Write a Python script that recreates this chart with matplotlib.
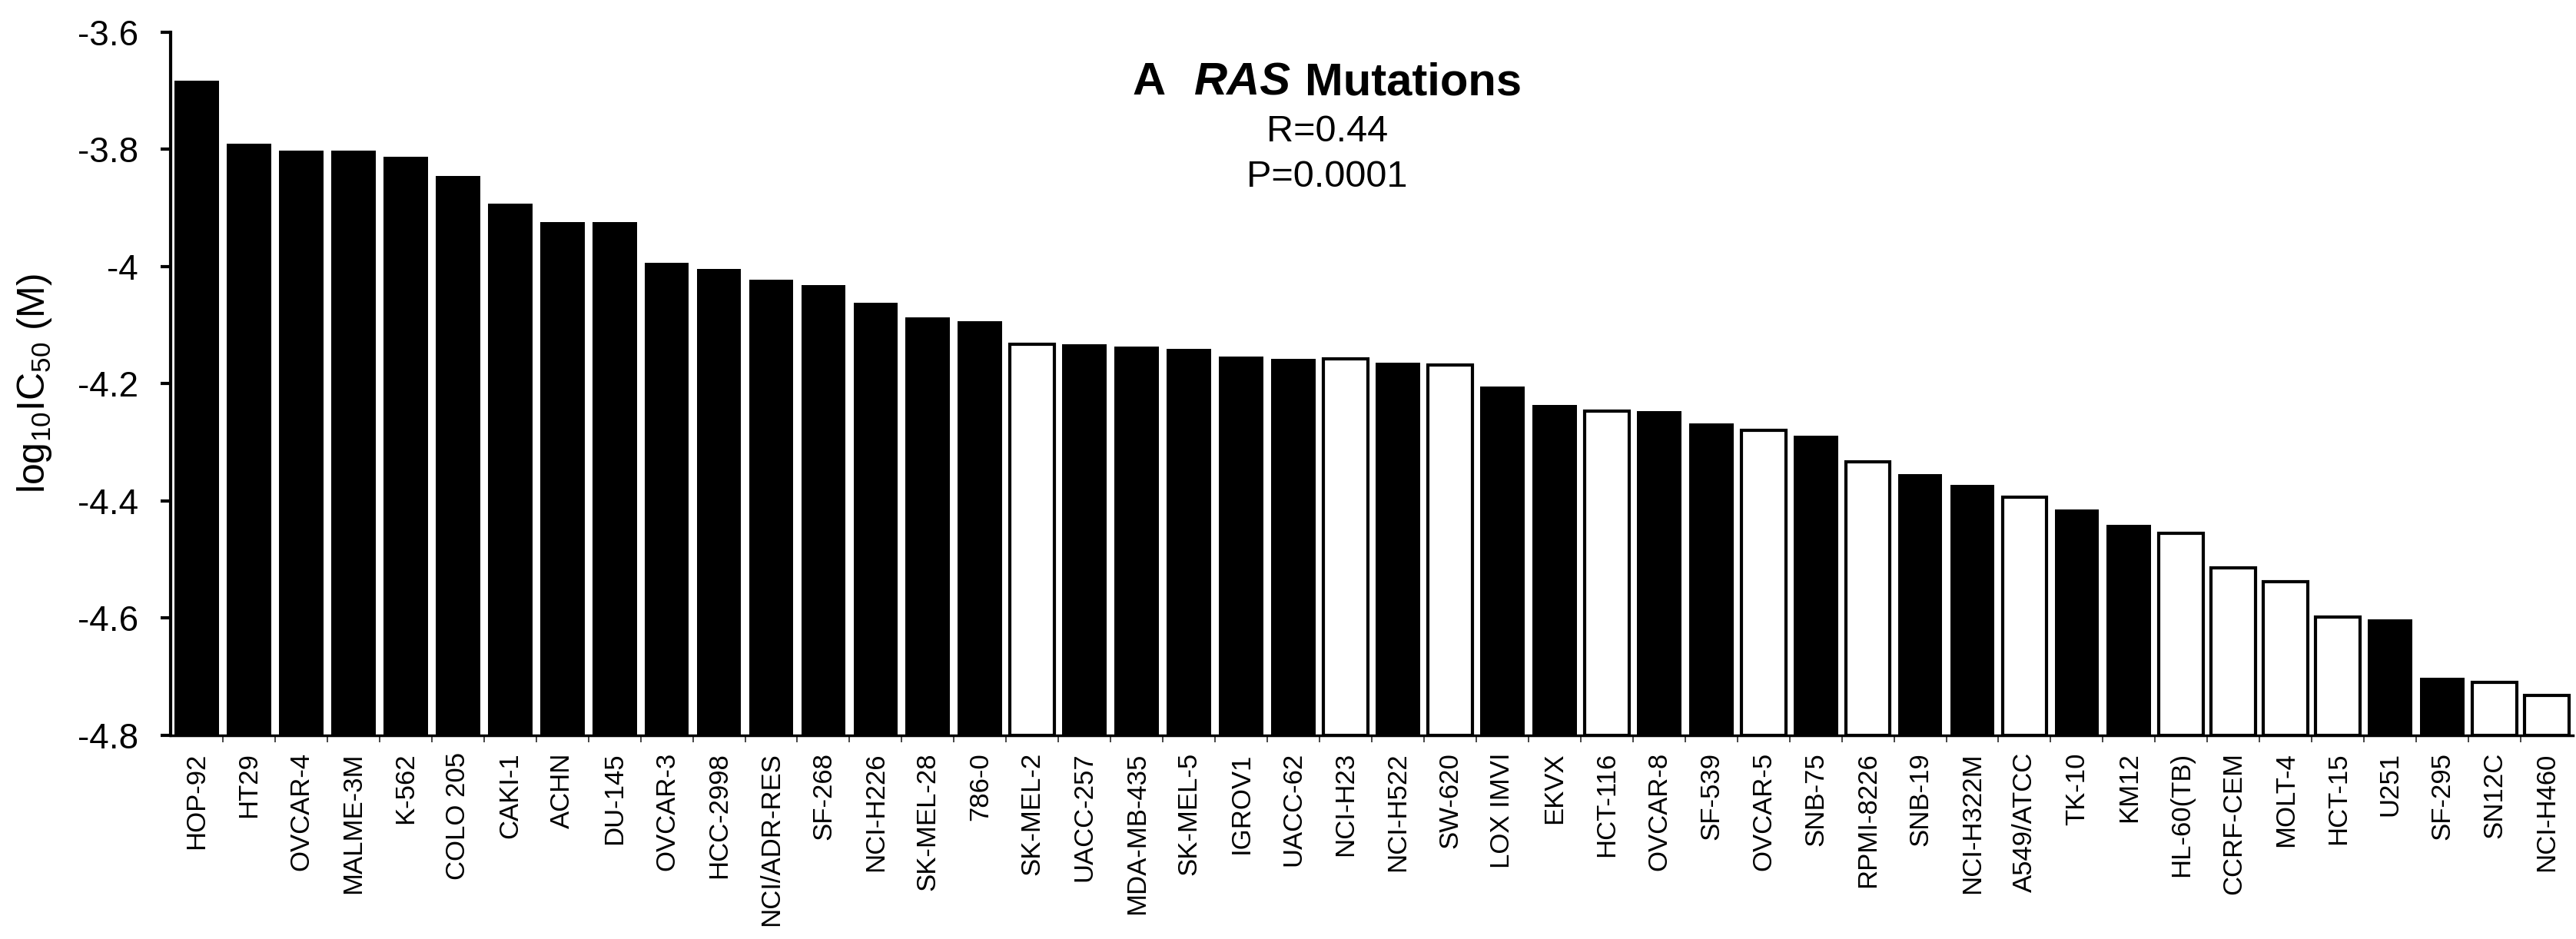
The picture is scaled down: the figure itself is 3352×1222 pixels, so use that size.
import matplotlib
matplotlib.use('Agg')
import matplotlib.pyplot as plt
import numpy as np

plt.rcParams['font.family'] = 'Liberation Sans'
plt.rcParams['mathtext.default'] = 'regular'

# cell lines, sorted by log10 IC50
cell_lines = ['HOP-92', 'HT29', 'OVCAR-4', 'MALME-3M', 'K-562', 'COLO 205', 'CAKI-1',
              'ACHN', 'DU-145', 'OVCAR-3', 'HCC-2998', 'NCI/ADR-RES', 'SF-268',
              'NCI-H226', 'SK-MEL-28', '786-0', 'SK-MEL-2', 'UACC-257', 'MDA-MB-435',
              'SK-MEL-5', 'IGROV1', 'UACC-62', 'NCI-H23', 'NCI-H522', 'SW-620',
              'LOX IMVI', 'EKVX', 'HCT-116', 'OVCAR-8', 'SF-539', 'OVCAR-5', 'SNB-75',
              'RPMI-8226', 'SNB-19', 'NCI-H322M', 'A549/ATCC', 'TK-10', 'KM12',
              'HL-60(TB)', 'CCRF-CEM', 'MOLT-4', 'HCT-15', 'U251', 'SF-295', 'SN12C',
              'NCI-H460']
log_ic50 = [-3.683, -3.790, -3.802, -3.802, -3.813, -3.845, -3.892,
            -3.924, -3.924, -3.993, -4.004, -4.022, -4.032,
            -4.061, -4.086, -4.093, -4.133, -4.133, -4.136,
            -4.140, -4.154, -4.157, -4.157, -4.164, -4.168,
            -4.204, -4.236, -4.246, -4.246, -4.268, -4.279, -4.289,
            -4.333, -4.354, -4.372, -4.394, -4.415, -4.440,
            -4.455, -4.514, -4.538, -4.598, -4.602, -4.702, -4.709,
            -4.732]
# 0 = RAS wild type (open bar), 1 = filled bar
ras_mut = [1, 1, 1, 1, 1, 1, 1,
           1, 1, 1, 1, 1, 1,
           1, 1, 1, 0, 1, 1,
           1, 1, 1, 0, 1, 0,
           1, 1, 0, 1, 1, 0, 1,
           0, 1, 1, 0, 1, 1,
           0, 0, 0, 0, 1, 1, 0,
           0]
y_ticks = [-4.8, -4.6, -4.4, -4.2, -4.0, -3.8, -3.6]
y_ticklabels = ['-4.8', '-4.6', '-4.4', '-4.2', '-4', '-3.8', '-3.6']
r_text = 'R=0.44'
p_text = 'P=0.0001'

W, H = 3352, 1222
fig = plt.figure(figsize=(W / 100, H / 100), dpi=100)
ax = fig.add_axes([222 / W, 1 - 957 / H, (3348 - 222) / W, (957 - 42) / H])

base = y_ticks[0]
x = np.arange(len(cell_lines))
vals = np.array(log_ic50)
mut = np.array(ras_mut) == 1

ax.bar(x[mut], vals[mut] - base, bottom=base, width=0.85, color='black',
       edgecolor='black', linewidth=0)
ax.bar(x[~mut], vals[~mut] - base, bottom=base, width=0.85, color='white',
       edgecolor='black', linewidth=3)

ax.set_xlim(-0.5, len(cell_lines) - 0.5)
ax.set_ylim(y_ticks[0], y_ticks[-1])
ax.set_yticks(y_ticks)
ax.set_yticklabels(y_ticklabels, fontsize=33)
ax.set_xticks(x)
ax.set_xticklabels(cell_lines, rotation=90, fontsize=25)
ax.set_xticks(x[:-1] + 0.5, minor=True)

ax.tick_params(axis='y', length=9.4, width=3, pad=21, direction='out')
ax.tick_params(axis='x', which='major', length=0, pad=16)
ax.tick_params(axis='x', which='minor', length=6.5, width=1.4, color='#444444')

for s in ['top', 'right']:
    ax.spines[s].set_visible(False)
ax.spines['left'].set_linewidth(3)
ax.spines['bottom'].set_linewidth(2.5)

ax.set_ylabel(r'log$_{10}$IC$_{50}$ (M)', fontsize=36)
ax.yaxis.set_label_coords(-0.0487, 0.5)

# title: "A  RAS Mutations" with RAS in bold italic, centred at x=1727 px
renderer = fig.canvas.get_renderer()
parts = [('A', 'normal'), ('RAS', 'italic'), ('Mutations', 'normal')]
gaps = [37, 18]
title_y = 1 - 123 / H
texts = []
widths = []
for s, style in parts:
    t = fig.text(0, title_y, s, fontsize=43, weight='bold', style=style,
                 ha='left', va='baseline')
    texts.append(t)
    widths.append(t.get_window_extent(renderer).width)
total = sum(widths) + sum(gaps)
xpos = 1727 - total / 2
for i, t in enumerate(texts):
    t.set_x(xpos / W)
    xpos += widths[i] + (gaps[i] if i < len(gaps) else 0)

fig.text(1727 / W, 1 - 184 / H, r_text, fontsize=35, ha='center', va='baseline')
fig.text(1727 / W, 1 - 243 / H, p_text, fontsize=35, ha='center', va='baseline')

fig.savefig('out.png', dpi=100)
